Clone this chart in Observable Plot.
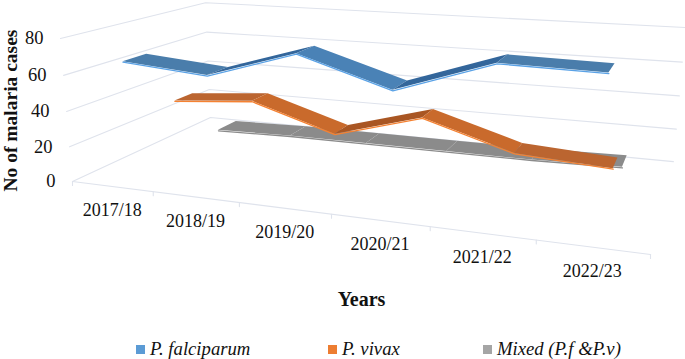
<!DOCTYPE html>
<html><head><meta charset="utf-8">
<script src="https://cdn.jsdelivr.net/npm/d3@7"></script>
<script src="https://cdn.jsdelivr.net/npm/@observablehq/plot@0.6"></script>
<style>
html,body{margin:0;padding:0;background:#fff;width:685px;height:359px;overflow:hidden}
svg{display:block}
#legend{position:relative;height:20px;font:italic 18.7px "Liberation Serif",serif;color:#111}
#legend span.t{position:absolute;top:0;line-height:20px;white-space:nowrap}
#legend i{position:absolute;top:6px;width:9px;height:9px}
</style></head><body>
<div id="chart"></div>
<div id="legend"></div>
<script>
const years = ["2017/18","2018/19","2019/20","2020/21","2021/22","2022/23"];
const falciparum = [66,62,77,62,79,78];
const vivax = [33,37,22,36,21,18];
const mixed = [2,3,3,3,3,4];
const yTicks = [0,20,40,60,80];

// Perspective camera of the 3-D chart box (category, value, depth each 0..1)
const persp = {u:-0.188, v:-0.04, w:0.258};
const corner = {o:[72,181], u:[650,254], v:[60,38], w:[210,117]};
const vecs = k => [0,1].map(i => corner[k][i]*(1+persp[k]) - corner.o[i]);
const U = vecs("u"), V = vecs("v"), W = vecs("w");
function project(u,val,w){
  const v = val/80, d = 1 + persp.u*u + persp.v*v + persp.w*w;
  return [0,1].map(i => (corner.o[i] + u*U[i] + v*V[i] + w*W[i]) / d);
}
const uCenter = k => (2*k+1)/(2*years.length);

const series = [
  {name:"Mixed", values:mixed, band:[0.77,0.93], edge:"#8b8b8b", shades:{fall:"#8b8b8b",flat:"#8b8b8b",rise:"#858585"}},
  {name:"P. vivax", values:vivax, band:[0.44,0.575], edge:"#f58232", shades:{fall:"#c96a2c",flat:"#bb6530",rise:"#a95623"}},
  {name:"P. falciparum", values:falciparum, band:[0.115,0.265], edge:"#5aa2e6", shades:{fall:"#4a82b6",flat:"#4a7dab",rise:"#33669b"}}
];

const ribbons = [], edges = [];
for (const s of series) {
  s.values.forEach((val,k) => {
    const near = project(uCenter(k),val,s.band[0]);
    edges.push({name:s.name, color:s.edge, x:near[0], y:near[1]});
    if (k === s.values.length-1) return;
    const next = s.values[k+1], diff = next-val;
    const shade = Math.abs(diff) < 5 ? s.shades.flat : diff < 0 ? s.shades.fall : s.shades.rise;
    for (const [kk,vv] of [[k,val],[k+1,next]]) {
      const a = project(uCenter(kk),vv,s.band[0]), b = project(uCenter(kk),vv,s.band[1]);
      ribbons.push({seg:s.name+k, shade, x1:a[0], y1:a[1], x2:b[0], y2:b[1]});
    }
  });
}

const grid = [];
yTicks.forEach(t => {
  [[0,0],[0,1],[1,1]].forEach(([u,w]) => { const p = project(u,t,w); grid.push({t:"g"+t,x:p[0],y:p[1]}); });
});
[[0,0],[1,0]].forEach(([u,w]) => { const p = project(u,0,w); grid.push({t:"front",x:p[0],y:p[1]}); });
d3.range(years.length+1).forEach(k => {
  const p = project(k/years.length,0,0);
  grid.push({t:"tick"+k,x:p[0],y:p[1]},{t:"tick"+k,x:p[0],y:p[1]+4});
});

const yLabels = yTicks.map(t => { const p = project(0,t,0); return {text:String(t),x:p[0],y:p[1]}; });
const xLabels = years.map((yr,k) => { const p = project(uCenter(k),0,0); return {text:yr,x:p[0],y:p[1]}; });

const serif = '"Liberation Serif",serif';
const H = 339;
const plot = Plot.plot({
  width:685, height:H, margin:0,
  x:{domain:[0,685],range:[0,685],axis:null},
  y:{domain:[0,H],range:[0,H],axis:null},
  style:{background:"#fff",fontFamily:serif},
  marks:[
    Plot.line(grid,{x:"x",y:"y",z:"t",stroke:"#dfe3ec",strokeWidth:1.1}),
    ...series.flatMap(s => [
      Plot.area(ribbons.filter(d=>d.seg.startsWith(s.name)),{x1:"x1",y1:"y1",x2:"x2",y2:"y2",z:"seg",fill:"shade"}),
      Plot.line(edges.filter(d=>d.name===s.name),{x:"x",y:"y",stroke:s.edge,strokeWidth:1.3,dy:0.5})
    ]),
    Plot.text(yLabels,{x:"x",y:"y",text:"text",dx:-17,textAnchor:"end",fontSize:18.5,fill:"#111"}),
    Plot.text(xLabels,{x:"x",y:"y",text:"text",dy:24,fontSize:18,fill:"#111"}),
    Plot.text(["No of malaria cases"],{frameAnchor:"top-left",dx:3,dy:110,rotate:-90,fontSize:19.5,fontWeight:"bold",fill:"#111",textAnchor:"middle"}),
    Plot.text(["Years"],{frameAnchor:"top-left",dx:361,dy:291,fontSize:20,fontWeight:"bold",fill:"#111",textAnchor:"middle"})
  ]
});
document.getElementById("chart").append(plot);

const legendItems = [
  {name:"P. falciparum",color:"#5b9bd5",sw:136,tx:150},
  {name:"P. vivax",color:"#ed7d31",sw:328,tx:342},
  {name:"Mixed (P.f &P.v)",color:"#a5a5a5",sw:483,tx:497}
];
const lg = document.getElementById("legend");
legendItems.forEach(d => {
  const i = document.createElement("i"); i.style.left=d.sw+"px"; i.style.background=d.color; lg.append(i);
  const s = document.createElement("span"); s.className="t"; s.style.left=d.tx+"px"; s.textContent=d.name; lg.append(s);
});
</script>
</body></html>
